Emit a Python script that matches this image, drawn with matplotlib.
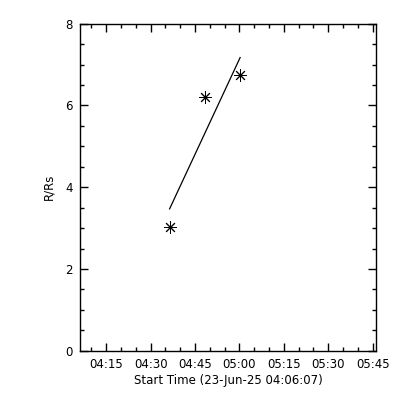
import datetime as dt
import matplotlib
matplotlib.use("Agg")
import matplotlib.pyplot as plt
import matplotlib.dates as mdates

# measured height-time points
obs_times = ["04:36:23", "04:48:13", "05:00:13"]
obs_r = [3.02, 6.20, 6.74]

# fitted line, endpoints
fit_times = ["04:36:23", "05:00:13"]
fit_r = [3.47, 7.17]

day = "2025-06-23"
t_start = "04:06:07"
t_end = "05:46:07"
y_range = [0, 8]


def to_dt(s):
    return dt.datetime.strptime(day + " " + s, "%Y-%m-%d %H:%M:%S")


plt.rcParams['font.family'] = ['DejaVu Sans']
fig = plt.figure(figsize=(4, 4), dpi=100)
ax = fig.add_axes([0.2, 0.123, 0.74, 0.818])

ax.plot([to_dt(t) for t in fit_times], fit_r, color='black', lw=0.9)
ax.plot([to_dt(t) for t in obs_times], obs_r, linestyle='none',
        marker=(8, 2, 0), markersize=9, markeredgewidth=0.7,
        color='black')

ax.set_xlim(to_dt(t_start), to_dt(t_end))
ax.set_ylim(*y_range)

ax.xaxis.set_major_locator(mdates.MinuteLocator(byminute=[0, 15, 30, 45]))
ax.xaxis.set_minor_locator(mdates.MinuteLocator(byminute=range(0, 60, 5)))
ax.xaxis.set_major_formatter(mdates.DateFormatter("%H:%M"))
ax.yaxis.set_major_locator(plt.MultipleLocator(2))
ax.yaxis.set_minor_locator(plt.MultipleLocator(0.5))

ax.tick_params(which='both', direction='in', top=True, right=True,
               width=1, labelsize=8.5, colors='black')
ax.tick_params(which='major', length=6, pad=5)
ax.tick_params(which='minor', length=3)
for s in ax.spines.values():
    s.set_linewidth(1)

ax.set_ylabel("R/Rs", fontsize=8.5, labelpad=7)
ax.set_xlabel("Start Time (23-Jun-25 04:06:07)", fontsize=8.5, labelpad=2)

fig.savefig("out.png", dpi=100)
